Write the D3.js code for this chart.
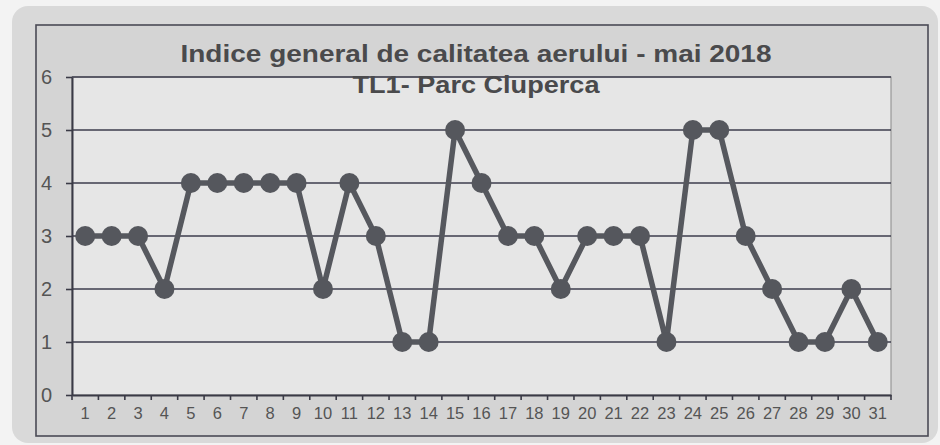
<!DOCTYPE html>
<html>
<head>
<meta charset="utf-8">
<script src="https://cdn.jsdelivr.net/npm/d3@7/dist/d3.min.js"></script>
<style>
html,body{margin:0;padding:0;background:#f3f3f3;}
svg{display:block;font-family:Arial,"Liberation Sans",sans-serif;}
</style>
</head>
<body>
<svg id="chart" width="940" height="445"></svg>
<script>
const titleLines = ["Indice general de calitatea aerului - mai 2018", "TL1- Parc Cluperca"];
const days = d3.range(1, 32).map(String);
const values = [3,3,3,2,4,4,4,4,4,2,4,3,1,1,5,4,3,3,2,3,3,3,1,5,5,3,2,1,1,2,1];
const yTicks = [0,1,2,3,4,5,6];

const svg = d3.select("#chart");
const plot = {left: 72, right: 891, top: 77, bottom: 395};

// scanned page background
svg.append("rect").attr("x", 12).attr("y", 6).attr("width", 926).attr("height", 437)
  .attr("rx", 16).attr("fill", "#d9d9d9");
// chart area
svg.append("rect").attr("x", 36).attr("y", 25).attr("width", 892).attr("height", 411)
  .attr("fill", "#d4d4d4").attr("stroke", "#4a4a55").attr("stroke-width", 1.6);
// plot area
svg.append("rect").attr("x", plot.left).attr("y", plot.top)
  .attr("width", plot.right - plot.left).attr("height", plot.bottom - plot.top)
  .attr("fill", "#e6e6e6").attr("stroke", "#8a8a8a").attr("stroke-width", 1);

const x = d3.scaleBand().domain(days).range([plot.left, plot.right]).padding(0);
const y = d3.scaleLinear().domain([0, 6]).range([plot.bottom, plot.top]);

// gridlines
svg.append("g").selectAll("line").data(yTicks.filter(d => d > 0)).join("line")
  .attr("x1", plot.left).attr("x2", plot.right)
  .attr("y1", d => y(d)).attr("y2", d => y(d))
  .attr("stroke", "#3d3d4c").attr("stroke-width", 1.5);

// y axis
const yAxis = d3.axisLeft(y).tickValues(yTicks).tickFormat(d3.format("d"))
  .tickSize(6).tickSizeOuter(0).tickPadding(14);
const gy = svg.append("g").attr("transform", `translate(${plot.left},0)`).call(yAxis);
gy.attr("font-size", null).attr("font-family", null);
gy.select(".domain").attr("stroke", "#3a3a46").attr("stroke-width", 2);
gy.selectAll(".tick line").attr("stroke", "#3a3a46").attr("stroke-width", 1.6);
gy.selectAll(".tick text").attr("fill", "#555").style("font-size", "20px");

// x axis (labels)
const xAxis = d3.axisBottom(x).tickSize(0).tickSizeOuter(0).tickPadding(12);
const gx = svg.append("g").attr("transform", `translate(0,${plot.bottom})`).call(xAxis);
gx.attr("font-size", null).attr("font-family", null);
gx.select(".domain").attr("stroke", "#3a3a46").attr("stroke-width", 2);
gx.selectAll(".tick text").attr("fill", "#555").style("font-size", "16.5px");
// x ticks at category boundaries
const bounds = days.map(d => x(d)).concat([x(days[days.length - 1]) + x.bandwidth()]);
svg.append("g").selectAll("line").data(bounds).join("line")
  .attr("x1", d => d).attr("x2", d => d)
  .attr("y1", plot.bottom).attr("y2", plot.bottom + 5)
  .attr("stroke", "#3a3a46").attr("stroke-width", 1.6);

// series line
const cx = (d, i) => x(days[i]) + x.bandwidth() / 2;
svg.append("path").datum(values)
  .attr("d", d3.line().x(cx).y(d => y(d)))
  .attr("fill", "none").attr("stroke", "#56585e").attr("stroke-width", 5.5)
  .attr("stroke-linejoin", "round");
svg.append("g").selectAll("circle").data(values).join("circle")
  .attr("cx", cx).attr("cy", d => y(d)).attr("r", 10)
  .attr("fill", "#55575d");

// title
const titleWidths = [591, 247];
svg.append("g").selectAll("text").data(titleLines).join("text")
  .attr("x", 476).attr("y", (d, i) => 62 + i * 31)
  .attr("text-anchor", "middle")
  .attr("textLength", (d, i) => titleWidths[i])
  .attr("lengthAdjust", "spacingAndGlyphs")
  .attr("fill", "#4a4a4c").style("font-weight", "bold").style("font-size", "23px")
  .text(d => d);
</script>
</body>
</html>
